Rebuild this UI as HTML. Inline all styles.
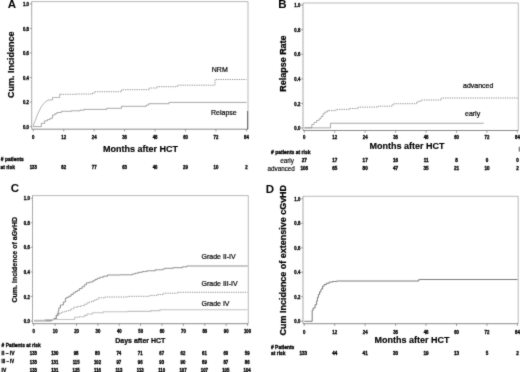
<!DOCTYPE html>
<html><head><meta charset="utf-8"><title>Figure</title>
<style>
html,body{margin:0;padding:0;background:#fff;}
svg{display:block;}
text{font-family:"Liberation Sans", sans-serif;fill:#222;}
.tk{font-size:5.1px;font-weight:bold;fill:#000;stroke:#000;stroke-width:0.35px;}
.nm{font-size:5.0px;font-weight:bold;fill:#000;stroke:#000;stroke-width:0.35px;}
.rl{font-size:5.1px;font-weight:bold;fill:#000;stroke:#000;stroke-width:0.3px;}
.rg{font-size:6.3px;fill:#000;stroke:#000;stroke-width:0.15px;}
.pl{font-size:11.5px;font-weight:bold;fill:#000;}
.yl9{font-size:9px;font-weight:bold;fill:#000;stroke:#000;stroke-width:0.2px;}
.yl95{font-size:9.5px;font-weight:bold;fill:#000;stroke:#000;stroke-width:0.25px;}
.yl7{font-size:7px;font-weight:bold;fill:#000;stroke:#000;stroke-width:0.2px;}
.xl9{font-size:9px;font-weight:bold;fill:#000;stroke:#000;stroke-width:0.15px;}
.xl7{font-size:7px;font-weight:bold;fill:#000;stroke:#000;stroke-width:0.2px;}
.lb{font-size:7px;fill:#000;stroke:#000;stroke-width:0.2px;}
</style></head>
<body>
<svg width="520" height="372" viewBox="0 0 520 372">
<defs><filter id="soft" x="0" y="0" width="520" height="372" filterUnits="userSpaceOnUse" color-interpolation-filters="sRGB"><feConvolveMatrix order="3" kernelMatrix="0.02 0.08 0.02 0.08 0.6 0.08 0.02 0.08 0.02" divisor="1" edgeMode="duplicate" preserveAlpha="false"/></filter></defs>
<g filter="url(#soft)">
<rect x="0" y="0" width="520" height="372" fill="#ffffff"/>
<path d="M31.7,1.6 H248 V129.2" fill="none" stroke="#9c9c9c" stroke-width="0.7"/>
<path d="M31.7,1.6 V129.2" fill="none" stroke="#7c7c7c" stroke-width="0.8" stroke-dasharray="1.6 0.3"/>
<path d="M31.7,129.2 H248" fill="none" stroke="#6e6e6e" stroke-width="0.8"/>
<line x1="33.25" y1="129.2" x2="33.25" y2="131.5" stroke="#666" stroke-width="0.6"/>
<text transform="translate(33.25,139.20) scale(0.84,1)" class="tk" text-anchor="middle" >0</text>
<line x1="63.7" y1="129.2" x2="63.7" y2="131.5" stroke="#666" stroke-width="0.6"/>
<text transform="translate(63.70,139.20) scale(0.84,1)" class="tk" text-anchor="middle" >12</text>
<line x1="94.15" y1="129.2" x2="94.15" y2="131.5" stroke="#666" stroke-width="0.6"/>
<text transform="translate(94.15,139.20) scale(0.84,1)" class="tk" text-anchor="middle" >24</text>
<line x1="124.6" y1="129.2" x2="124.6" y2="131.5" stroke="#666" stroke-width="0.6"/>
<text transform="translate(124.60,139.20) scale(0.84,1)" class="tk" text-anchor="middle" >36</text>
<line x1="155.05" y1="129.2" x2="155.05" y2="131.5" stroke="#666" stroke-width="0.6"/>
<text transform="translate(155.05,139.20) scale(0.84,1)" class="tk" text-anchor="middle" >48</text>
<line x1="185.5" y1="129.2" x2="185.5" y2="131.5" stroke="#666" stroke-width="0.6"/>
<text transform="translate(185.50,139.20) scale(0.84,1)" class="tk" text-anchor="middle" >60</text>
<line x1="215.95" y1="129.2" x2="215.95" y2="131.5" stroke="#666" stroke-width="0.6"/>
<text transform="translate(215.95,139.20) scale(0.84,1)" class="tk" text-anchor="middle" >72</text>
<line x1="246.4" y1="129.2" x2="246.4" y2="131.5" stroke="#666" stroke-width="0.6"/>
<text transform="translate(246.40,139.20) scale(0.84,1)" class="tk" text-anchor="middle" >84</text>
<line x1="29.9" y1="126.6" x2="31.7" y2="126.6" stroke="#666" stroke-width="0.6"/>
<text transform="translate(29.00,128.70) scale(0.84,1)" class="tk" text-anchor="end" >0.0</text>
<line x1="29.9" y1="102.06" x2="31.7" y2="102.06" stroke="#666" stroke-width="0.6"/>
<text transform="translate(29.00,104.16) scale(0.84,1)" class="tk" text-anchor="end" >0.2</text>
<line x1="29.9" y1="77.52" x2="31.7" y2="77.52" stroke="#666" stroke-width="0.6"/>
<text transform="translate(29.00,79.62) scale(0.84,1)" class="tk" text-anchor="end" >0.4</text>
<line x1="29.9" y1="52.97999999999999" x2="31.7" y2="52.97999999999999" stroke="#666" stroke-width="0.6"/>
<text transform="translate(29.00,55.08) scale(0.84,1)" class="tk" text-anchor="end" >0.6</text>
<line x1="29.9" y1="28.439999999999998" x2="31.7" y2="28.439999999999998" stroke="#666" stroke-width="0.6"/>
<text transform="translate(29.00,30.54) scale(0.84,1)" class="tk" text-anchor="end" >0.8</text>
<line x1="29.9" y1="3.9000000000000057" x2="31.7" y2="3.9000000000000057" stroke="#666" stroke-width="0.6"/>
<text transform="translate(29.00,6.00) scale(0.84,1)" class="tk" text-anchor="end" >1.0</text>
<text x="7.7" y="8.3" class="pl" text-anchor="start" >A</text>
<text transform="translate(13.7,64.7) rotate(-90) scale(1,1)" class="yl9" text-anchor="middle">Cum. Incidence</text>
<text x="140.5" y="152.4" class="xl9" text-anchor="middle" >Months after HCT</text>
<text transform="translate(0.80,161.10) scale(0.97,1)" class="rl" text-anchor="start" ># patients</text>
<text transform="translate(0.40,169.00) scale(0.97,1)" class="rl" text-anchor="start" >at risk</text>
<text transform="translate(33.25,169.30) scale(0.86,1)" class="nm" text-anchor="middle" >133</text>
<text transform="translate(63.70,169.30) scale(0.86,1)" class="nm" text-anchor="middle" >82</text>
<text transform="translate(94.15,169.30) scale(0.86,1)" class="nm" text-anchor="middle" >77</text>
<text transform="translate(124.60,169.30) scale(0.86,1)" class="nm" text-anchor="middle" >63</text>
<text transform="translate(155.05,169.30) scale(0.86,1)" class="nm" text-anchor="middle" >46</text>
<text transform="translate(185.50,169.30) scale(0.86,1)" class="nm" text-anchor="middle" >29</text>
<text transform="translate(215.95,169.30) scale(0.86,1)" class="nm" text-anchor="middle" >10</text>
<text transform="translate(246.40,169.30) scale(0.86,1)" class="nm" text-anchor="middle" >2</text>
<path d="M33.30,126.60 L33.80,124.00 L35.50,120.00 L38.00,113.30 L41.30,106.70 L44.70,102.50 L48.00,100.00 L51.30,100.00" fill="none" stroke="#808080" stroke-width="0.6"/>
<path d="M51.30,100.00 L52.55,100.00 L52.55,97.50 L53.80,97.50 L58.80,97.50 L59.65,97.50 L59.65,94.30 L60.50,94.30" fill="none" stroke="#808080" stroke-width="0.6"/>
<path d="M60.50,94.30 L75.90,94.30 L75.90,94.00 L91.30,94.00 L92.55,94.00 L92.55,92.85 L93.80,92.85 L95.05,92.85 L95.05,91.70 L96.30,91.70 L120.00,91.70 L121.65,91.70 L121.65,89.70 L123.30,89.70 L148.30,89.70 L149.15,89.70 L149.15,88.00 L150.00,88.00 L156.00,88.00 L157.15,88.00 L157.15,86.70 L158.30,86.70 L176.00,86.70 L177.25,86.70 L177.25,85.20 L178.50,85.20 L215.00,85.20 L215.00,79.50 L246.50,79.50" fill="none" stroke="#707070" stroke-width="0.75" stroke-dasharray="1.3 1.0"/>
<path d="M33.30,126.60 L39.70,126.60 L41.35,126.60 L41.35,123.30 L43.00,123.30 L44.65,123.30 L44.65,120.80 L46.30,120.80 L47.55,120.80 L47.55,119.55 L48.80,119.55 L50.05,119.55 L50.05,118.30 L51.30,118.30 L52.55,118.30 L52.55,115.00 L53.80,115.00 L54.85,115.00 L54.85,113.75 L55.90,113.75 L56.95,113.75 L56.95,112.50 L58.00,112.50 L61.35,112.50 L61.35,111.30 L64.70,111.30 L71.35,111.30 L71.35,110.80 L78.00,110.80 L80.08,110.80 L80.08,110.10 L82.15,110.10 L84.22,110.10 L84.22,109.40 L86.30,109.40 L106.00,109.40 L106.75,109.40 L106.75,108.30 L107.50,108.30 L120.00,108.30 L121.50,108.30 L121.50,106.30 L123.00,106.30 L145.00,106.30 L146.25,106.30 L146.25,105.00 L147.50,105.00 L148.75,105.00 L148.75,103.70 L150.00,103.70 L168.00,103.70 L169.00,103.70 L169.00,102.40 L170.00,102.40 L246.50,102.40" fill="none" stroke="#6c6c6c" stroke-width="0.6"/>
<line x1="247.6" y1="111" x2="247.6" y2="129.5" stroke="#666" stroke-width="1"/>
<text x="211.8" y="71.6" class="lb" text-anchor="start" >NRM</text>
<text x="211.0" y="114.8" class="lb" text-anchor="start" >Relapse</text>
<path d="M303,3 H518.3 V130.5" fill="none" stroke="#9c9c9c" stroke-width="0.7"/>
<path d="M303,3 V130.5" fill="none" stroke="#7c7c7c" stroke-width="0.8" stroke-dasharray="1.6 0.3"/>
<path d="M303,130.5 H518.3" fill="none" stroke="#6e6e6e" stroke-width="0.8"/>
<line x1="304.25" y1="130.5" x2="304.25" y2="132.8" stroke="#666" stroke-width="0.6"/>
<text transform="translate(304.25,139.30) scale(0.84,1)" class="tk" text-anchor="middle" >0</text>
<line x1="334.7" y1="130.5" x2="334.7" y2="132.8" stroke="#666" stroke-width="0.6"/>
<text transform="translate(334.70,139.30) scale(0.84,1)" class="tk" text-anchor="middle" >12</text>
<line x1="365.15" y1="130.5" x2="365.15" y2="132.8" stroke="#666" stroke-width="0.6"/>
<text transform="translate(365.15,139.30) scale(0.84,1)" class="tk" text-anchor="middle" >24</text>
<line x1="395.6" y1="130.5" x2="395.6" y2="132.8" stroke="#666" stroke-width="0.6"/>
<text transform="translate(395.60,139.30) scale(0.84,1)" class="tk" text-anchor="middle" >36</text>
<line x1="426.05" y1="130.5" x2="426.05" y2="132.8" stroke="#666" stroke-width="0.6"/>
<text transform="translate(426.05,139.30) scale(0.84,1)" class="tk" text-anchor="middle" >48</text>
<line x1="456.5" y1="130.5" x2="456.5" y2="132.8" stroke="#666" stroke-width="0.6"/>
<text transform="translate(456.50,139.30) scale(0.84,1)" class="tk" text-anchor="middle" >60</text>
<line x1="486.95" y1="130.5" x2="486.95" y2="132.8" stroke="#666" stroke-width="0.6"/>
<text transform="translate(486.95,139.30) scale(0.84,1)" class="tk" text-anchor="middle" >72</text>
<line x1="517.4" y1="130.5" x2="517.4" y2="132.8" stroke="#666" stroke-width="0.6"/>
<text transform="translate(517.40,139.30) scale(0.84,1)" class="tk" text-anchor="middle" >84</text>
<line x1="301.2" y1="128.0" x2="303" y2="128.0" stroke="#666" stroke-width="0.6"/>
<text transform="translate(300.30,130.10) scale(0.84,1)" class="tk" text-anchor="end" >0.0</text>
<line x1="301.2" y1="103.4" x2="303" y2="103.4" stroke="#666" stroke-width="0.6"/>
<text transform="translate(300.30,105.50) scale(0.84,1)" class="tk" text-anchor="end" >0.2</text>
<line x1="301.2" y1="78.8" x2="303" y2="78.8" stroke="#666" stroke-width="0.6"/>
<text transform="translate(300.30,80.90) scale(0.84,1)" class="tk" text-anchor="end" >0.4</text>
<line x1="301.2" y1="54.19999999999999" x2="303" y2="54.19999999999999" stroke="#666" stroke-width="0.6"/>
<text transform="translate(300.30,56.30) scale(0.84,1)" class="tk" text-anchor="end" >0.6</text>
<line x1="301.2" y1="29.599999999999994" x2="303" y2="29.599999999999994" stroke="#666" stroke-width="0.6"/>
<text transform="translate(300.30,31.70) scale(0.84,1)" class="tk" text-anchor="end" >0.8</text>
<line x1="301.2" y1="5.0" x2="303" y2="5.0" stroke="#666" stroke-width="0.6"/>
<text transform="translate(300.30,7.10) scale(0.84,1)" class="tk" text-anchor="end" >1.0</text>
<text x="278.2" y="8.2" class="pl" text-anchor="start" >B</text>
<text transform="translate(285.7,63.6) rotate(-90) scale(0.945,1)" class="yl95" text-anchor="middle">Relapse Rate</text>
<text x="407" y="149.4" class="xl9" text-anchor="middle" >Months after HCT</text>
<text x="271" y="153.8" class="rl" text-anchor="start"  style="font-size:5.0px"># patients at risk</text>
<text x="293.8" y="163.4" class="rg" text-anchor="end" >early</text>
<text x="294.8" y="171" class="rg" text-anchor="end" >advanced</text>
<text transform="translate(304.25,162.10) scale(0.95,1)" class="nm" text-anchor="middle"  style="font-size:4.8px">27</text>
<text transform="translate(304.25,170.20) scale(0.95,1)" class="nm" text-anchor="middle"  style="font-size:4.8px">106</text>
<text transform="translate(334.70,162.10) scale(0.95,1)" class="nm" text-anchor="middle"  style="font-size:4.8px">17</text>
<text transform="translate(334.70,170.20) scale(0.95,1)" class="nm" text-anchor="middle"  style="font-size:4.8px">65</text>
<text transform="translate(365.15,162.10) scale(0.95,1)" class="nm" text-anchor="middle"  style="font-size:4.8px">17</text>
<text transform="translate(365.15,170.20) scale(0.95,1)" class="nm" text-anchor="middle"  style="font-size:4.8px">80</text>
<text transform="translate(395.60,162.10) scale(0.95,1)" class="nm" text-anchor="middle"  style="font-size:4.8px">16</text>
<text transform="translate(395.60,170.20) scale(0.95,1)" class="nm" text-anchor="middle"  style="font-size:4.8px">47</text>
<text transform="translate(426.05,162.10) scale(0.95,1)" class="nm" text-anchor="middle"  style="font-size:4.8px">11</text>
<text transform="translate(426.05,170.20) scale(0.95,1)" class="nm" text-anchor="middle"  style="font-size:4.8px">35</text>
<text transform="translate(456.50,162.10) scale(0.95,1)" class="nm" text-anchor="middle"  style="font-size:4.8px">8</text>
<text transform="translate(456.50,170.20) scale(0.95,1)" class="nm" text-anchor="middle"  style="font-size:4.8px">21</text>
<text transform="translate(486.95,162.10) scale(0.95,1)" class="nm" text-anchor="middle"  style="font-size:4.8px">0</text>
<text transform="translate(486.95,170.20) scale(0.95,1)" class="nm" text-anchor="middle"  style="font-size:4.8px">10</text>
<text transform="translate(517.40,162.10) scale(0.95,1)" class="nm" text-anchor="middle"  style="font-size:4.8px">0</text>
<text transform="translate(517.40,170.20) scale(0.95,1)" class="nm" text-anchor="middle"  style="font-size:4.8px">2</text>
<path d="M304.30,127.90 L310.60,127.90 L311.80,127.90 L311.80,124.50 L313.00,124.50 L314.00,124.50 L314.00,122.50 L315.00,122.50 L316.50,122.50 L316.50,120.50 L318.00,120.50 L319.00,120.50 L319.00,118.75 L320.00,118.75 L321.00,118.75 L321.00,116.50 L322.00,116.50 L322.88,116.50 L322.88,113.75 L323.75,113.75 L324.88,113.75 L324.88,112.00 L326.00,112.00 L327.40,112.00 L327.40,110.60 L328.80,110.60" fill="none" stroke="#808080" stroke-width="0.6"/>
<path d="M328.80,110.60 L335.50,110.60 L336.00,110.60 L336.00,109.40 L336.50,109.40 L348.00,109.40 L349.50,109.40 L349.50,108.50 L351.00,108.50 L357.70,108.50 L358.10,108.50 L358.10,107.10 L358.50,107.10 L377.00,107.10 L377.90,107.10 L377.90,106.20 L378.80,106.20 L390.50,106.20 L391.62,106.20 L391.62,104.95 L392.75,104.95 L393.88,104.95 L393.88,103.70 L395.00,103.70 L415.00,103.70 L416.50,103.70 L416.50,102.00 L418.00,102.00 L419.12,102.00 L419.12,101.00 L420.25,101.00 L421.38,101.00 L421.38,100.00 L422.50,100.00 L440.00,100.00 L441.25,100.00 L441.25,98.00 L442.50,98.00 L517.50,98.00" fill="none" stroke="#707070" stroke-width="0.75" stroke-dasharray="1.3 1.0"/>
<path d="M304.30,127.90 L330.50,127.90 L330.50,123.25 L483.75,123.25" fill="none" stroke="#6c6c6c" stroke-width="0.6"/>
<text x="463" y="88.2" class="lb" text-anchor="start" >advanced</text>
<text x="465" y="115.6" class="lb" text-anchor="start" >early</text>
<rect x="518.7" y="146.8" width="1.4" height="4.8" fill="#808080"/>
<path d="M32.5,195.6 H248.3 V323.7" fill="none" stroke="#9c9c9c" stroke-width="0.7"/>
<path d="M32.5,195.6 V323.7" fill="none" stroke="#7c7c7c" stroke-width="0.8" stroke-dasharray="1.6 0.3"/>
<path d="M32.5,323.7 H248.3" fill="none" stroke="#6e6e6e" stroke-width="0.8"/>
<line x1="33.75" y1="323.7" x2="33.75" y2="326.0" stroke="#666" stroke-width="0.6"/>
<text transform="translate(33.75,333.20) scale(0.84,1)" class="tk" text-anchor="middle" >0</text>
<line x1="55.129999999999995" y1="323.7" x2="55.129999999999995" y2="326.0" stroke="#666" stroke-width="0.6"/>
<text transform="translate(55.13,333.20) scale(0.84,1)" class="tk" text-anchor="middle" >10</text>
<line x1="76.50999999999999" y1="323.7" x2="76.50999999999999" y2="326.0" stroke="#666" stroke-width="0.6"/>
<text transform="translate(76.51,333.20) scale(0.84,1)" class="tk" text-anchor="middle" >20</text>
<line x1="97.89" y1="323.7" x2="97.89" y2="326.0" stroke="#666" stroke-width="0.6"/>
<text transform="translate(97.89,333.20) scale(0.84,1)" class="tk" text-anchor="middle" >30</text>
<line x1="119.27" y1="323.7" x2="119.27" y2="326.0" stroke="#666" stroke-width="0.6"/>
<text transform="translate(119.27,333.20) scale(0.84,1)" class="tk" text-anchor="middle" >40</text>
<line x1="140.64999999999998" y1="323.7" x2="140.64999999999998" y2="326.0" stroke="#666" stroke-width="0.6"/>
<text transform="translate(140.65,333.20) scale(0.84,1)" class="tk" text-anchor="middle" >50</text>
<line x1="162.03" y1="323.7" x2="162.03" y2="326.0" stroke="#666" stroke-width="0.6"/>
<text transform="translate(162.03,333.20) scale(0.84,1)" class="tk" text-anchor="middle" >60</text>
<line x1="183.41" y1="323.7" x2="183.41" y2="326.0" stroke="#666" stroke-width="0.6"/>
<text transform="translate(183.41,333.20) scale(0.84,1)" class="tk" text-anchor="middle" >70</text>
<line x1="204.79" y1="323.7" x2="204.79" y2="326.0" stroke="#666" stroke-width="0.6"/>
<text transform="translate(204.79,333.20) scale(0.84,1)" class="tk" text-anchor="middle" >80</text>
<line x1="226.17" y1="323.7" x2="226.17" y2="326.0" stroke="#666" stroke-width="0.6"/>
<text transform="translate(226.17,333.20) scale(0.84,1)" class="tk" text-anchor="middle" >90</text>
<line x1="247.54999999999998" y1="323.7" x2="247.54999999999998" y2="326.0" stroke="#666" stroke-width="0.6"/>
<text transform="translate(247.55,333.20) scale(0.84,1)" class="tk" text-anchor="middle" >100</text>
<line x1="30.7" y1="321.0" x2="32.5" y2="321.0" stroke="#666" stroke-width="0.6"/>
<text transform="translate(29.80,323.10) scale(0.84,1)" class="tk" text-anchor="end" >0.0</text>
<line x1="30.7" y1="296.45" x2="32.5" y2="296.45" stroke="#666" stroke-width="0.6"/>
<text transform="translate(29.80,298.55) scale(0.84,1)" class="tk" text-anchor="end" >0.2</text>
<line x1="30.7" y1="271.9" x2="32.5" y2="271.9" stroke="#666" stroke-width="0.6"/>
<text transform="translate(29.80,274.00) scale(0.84,1)" class="tk" text-anchor="end" >0.4</text>
<line x1="30.7" y1="247.35" x2="32.5" y2="247.35" stroke="#666" stroke-width="0.6"/>
<text transform="translate(29.80,249.45) scale(0.84,1)" class="tk" text-anchor="end" >0.6</text>
<line x1="30.7" y1="222.8" x2="32.5" y2="222.8" stroke="#666" stroke-width="0.6"/>
<text transform="translate(29.80,224.90) scale(0.84,1)" class="tk" text-anchor="end" >0.8</text>
<line x1="30.7" y1="198.25" x2="32.5" y2="198.25" stroke="#666" stroke-width="0.6"/>
<text transform="translate(29.80,200.35) scale(0.84,1)" class="tk" text-anchor="end" >1.0</text>
<text x="10.8" y="192.3" class="pl" text-anchor="start" >C</text>
<text transform="translate(17.0,259.7) rotate(-90) scale(1,1)" class="yl7" text-anchor="middle">Cum. Incidence of aGvHD</text>
<text x="140.3" y="343" class="xl7" text-anchor="middle" >Days after HCT</text>
<text transform="translate(1.60,346.80) scale(0.97,1)" class="rl" text-anchor="start" ># Patients at risk</text>
<text transform="translate(1.60,355.30) scale(0.97,1)" class="rl" text-anchor="start" >II – IV</text>
<text transform="translate(1.60,363.40) scale(0.85,1)" class="rl" text-anchor="start" >III – IV</text>
<text transform="translate(1.60,371.60) scale(0.97,1)" class="rl" text-anchor="start" >IV</text>
<text transform="translate(33.35,355.40) scale(0.86,1)" class="nm" text-anchor="middle" >133</text>
<text transform="translate(33.35,363.50) scale(0.86,1)" class="nm" text-anchor="middle" >133</text>
<text transform="translate(33.35,371.70) scale(0.86,1)" class="nm" text-anchor="middle" >133</text>
<text transform="translate(54.73,355.40) scale(0.86,1)" class="nm" text-anchor="middle" >130</text>
<text transform="translate(54.73,363.50) scale(0.86,1)" class="nm" text-anchor="middle" >131</text>
<text transform="translate(54.73,371.70) scale(0.86,1)" class="nm" text-anchor="middle" >131</text>
<text transform="translate(76.11,355.40) scale(0.86,1)" class="nm" text-anchor="middle" >98</text>
<text transform="translate(76.11,363.50) scale(0.86,1)" class="nm" text-anchor="middle" >115</text>
<text transform="translate(76.11,371.70) scale(0.86,1)" class="nm" text-anchor="middle" >125</text>
<text transform="translate(97.49,355.40) scale(0.86,1)" class="nm" text-anchor="middle" >80</text>
<text transform="translate(97.49,363.50) scale(0.86,1)" class="nm" text-anchor="middle" >102</text>
<text transform="translate(97.49,371.70) scale(0.86,1)" class="nm" text-anchor="middle" >116</text>
<text transform="translate(118.87,355.40) scale(0.86,1)" class="nm" text-anchor="middle" >74</text>
<text transform="translate(118.87,363.50) scale(0.86,1)" class="nm" text-anchor="middle" >97</text>
<text transform="translate(118.87,371.70) scale(0.86,1)" class="nm" text-anchor="middle" >113</text>
<text transform="translate(140.25,355.40) scale(0.86,1)" class="nm" text-anchor="middle" >71</text>
<text transform="translate(140.25,363.50) scale(0.86,1)" class="nm" text-anchor="middle" >96</text>
<text transform="translate(140.25,371.70) scale(0.86,1)" class="nm" text-anchor="middle" >113</text>
<text transform="translate(161.63,355.40) scale(0.86,1)" class="nm" text-anchor="middle" >67</text>
<text transform="translate(161.63,363.50) scale(0.86,1)" class="nm" text-anchor="middle" >93</text>
<text transform="translate(161.63,371.70) scale(0.86,1)" class="nm" text-anchor="middle" >110</text>
<text transform="translate(183.01,355.40) scale(0.86,1)" class="nm" text-anchor="middle" >62</text>
<text transform="translate(183.01,363.50) scale(0.86,1)" class="nm" text-anchor="middle" >90</text>
<text transform="translate(183.01,371.70) scale(0.86,1)" class="nm" text-anchor="middle" >107</text>
<text transform="translate(204.39,355.40) scale(0.86,1)" class="nm" text-anchor="middle" >61</text>
<text transform="translate(204.39,363.50) scale(0.86,1)" class="nm" text-anchor="middle" >89</text>
<text transform="translate(204.39,371.70) scale(0.86,1)" class="nm" text-anchor="middle" >107</text>
<text transform="translate(225.77,355.40) scale(0.86,1)" class="nm" text-anchor="middle" >60</text>
<text transform="translate(225.77,363.50) scale(0.86,1)" class="nm" text-anchor="middle" >87</text>
<text transform="translate(225.77,371.70) scale(0.86,1)" class="nm" text-anchor="middle" >105</text>
<text transform="translate(247.15,355.40) scale(0.86,1)" class="nm" text-anchor="middle" >59</text>
<text transform="translate(247.15,363.50) scale(0.86,1)" class="nm" text-anchor="middle" >86</text>
<text transform="translate(247.15,371.70) scale(0.86,1)" class="nm" text-anchor="middle" >104</text>
<path d="M34.00,320.80 L50.00,320.80 L51.25,320.80 L51.25,319.75 L52.50,319.75 L53.75,319.75 L53.75,318.70 L55.00,318.70 L56.25,318.70 L56.25,315.30 L57.50,315.30 L57.78,315.30 L57.78,312.80 L58.07,312.80 L58.35,312.80 L58.35,310.30 L58.63,310.30 L58.92,310.30 L58.92,307.80 L59.20,307.80 L60.45,307.80 L60.45,305.00 L61.70,305.00 L63.35,305.00 L63.35,302.00 L65.00,302.00 L65.40,302.00 L65.40,298.30 L65.80,298.30 L66.85,298.30 L66.85,297.25 L67.90,297.25 L68.95,297.25 L68.95,296.20 L70.00,296.20 L71.05,296.20 L71.05,294.50 L72.10,294.50 L73.15,294.50 L73.15,292.80 L74.20,292.80 L75.22,292.80 L75.22,291.55 L76.25,291.55 L77.28,291.55 L77.28,290.30 L78.30,290.30 L79.55,290.30 L79.55,288.50 L80.80,288.50 L82.05,288.50 L82.05,286.70 L83.30,286.70 L84.35,286.70 L84.35,284.75 L85.40,284.75 L86.45,284.75 L86.45,282.80 L87.50,282.80 L89.60,282.80 L89.60,282.00 L91.70,282.00 L92.80,282.00 L92.80,280.77 L93.90,280.77 L95.00,280.77 L95.00,279.53 L96.10,279.53 L97.20,279.53 L97.20,278.30 L98.30,278.30 L99.97,278.30 L99.97,277.25 L101.65,277.25 L103.33,277.25 L103.33,276.20 L105.00,276.20 L107.50,276.20 L107.50,275.00 L110.00,275.00 L120.40,275.00 L120.40,274.80 L130.80,274.80 L132.33,274.80 L132.33,273.97 L133.87,273.97 L135.40,273.97 L135.40,273.13 L136.93,273.13 L138.47,273.13 L138.47,272.30 L140.00,272.30 L142.25,272.30 L142.25,271.55 L144.50,271.55 L146.75,271.55 L146.75,270.80 L149.00,270.80 L155.25,270.80 L155.25,269.80 L161.50,269.80 L162.62,269.80 L162.62,269.05 L163.75,269.05 L164.88,269.05 L164.88,268.30 L166.00,268.30 L173.00,268.30 L173.00,267.70 L180.00,267.70 L182.25,267.70 L182.25,266.85 L184.50,266.85 L186.75,266.85 L186.75,266.00 L189.00,266.00 L247.70,266.00" fill="none" stroke="#606060" stroke-width="0.7"/>
<path d="M34.00,320.80 L50.00,320.80 L51.25,320.80 L51.25,319.75 L52.50,319.75 L53.75,319.75 L53.75,318.70 L55.00,318.70 L56.25,318.70 L56.25,315.30 L57.50,315.30 L58.35,315.30 L58.35,313.70 L59.20,313.70" fill="none" stroke="#858585" stroke-width="0.65"/>
<path d="M59.20,313.70 L60.23,313.70 L60.23,312.85 L61.25,312.85 L62.27,312.85 L62.27,312.00 L63.30,312.00 L64.97,312.00 L64.97,311.15 L66.65,311.15 L68.33,311.15 L68.33,310.30 L70.00,310.30 L71.25,310.30 L71.25,308.80 L72.50,308.80 L73.75,308.80 L73.75,307.30 L75.00,307.30 L77.08,307.30 L77.08,306.50 L79.15,306.50 L81.22,306.50 L81.22,305.70 L83.30,305.70 L84.55,305.70 L84.55,304.25 L85.80,304.25 L87.05,304.25 L87.05,302.80 L88.30,302.80 L89.42,302.80 L89.42,301.97 L90.53,301.97 L91.65,301.97 L91.65,301.13 L92.77,301.13 L93.88,301.13 L93.88,300.30 L95.00,300.30 L96.25,300.30 L96.25,299.05 L97.50,299.05 L98.75,299.05 L98.75,297.80 L100.00,297.80 L105.00,297.80 L105.00,297.00 L110.00,297.00 L128.00,297.00 L128.00,296.30 L146.00,296.30 L149.88,296.30 L149.88,295.40 L153.75,295.40 L157.62,295.40 L157.62,294.50 L161.50,294.50 L163.75,294.50 L163.75,293.20 L166.00,293.20 L177.50,293.20 L177.50,292.30 L189.00,292.30 L247.70,292.30" fill="none" stroke="#707070" stroke-width="0.75" stroke-dasharray="1.3 1.0"/>
<path d="M34.00,320.20 L45.35,320.20 L45.35,319.50 L56.70,319.50 L74.20,319.50 L74.60,319.50 L74.60,317.30 L75.00,317.30 L79.15,317.30 L79.15,316.70 L83.30,316.70 L84.55,316.70 L84.55,315.35 L85.80,315.35 L87.05,315.35 L87.05,314.00 L88.30,314.00 L92.50,314.00 L92.50,312.80 L96.70,312.80 L103.35,312.80 L103.35,311.80 L110.00,311.80 L128.00,311.80 L128.00,311.40 L146.00,311.40 L150.65,311.40 L150.65,310.60 L155.30,310.60 L159.95,310.60 L159.95,309.80 L164.60,309.80 L247.70,309.80" fill="none" stroke="#c2c2c2" stroke-width="1.1"/>
<text x="201.5" y="259.0" class="lb" text-anchor="start" >Grade II-IV</text>
<text x="201.5" y="286.0" class="lb" text-anchor="start" >Grade III-IV</text>
<text x="201.5" y="306.2" class="lb" text-anchor="start" >Grade IV</text>
<path d="M303,196.3 H518.2 V323.7" fill="none" stroke="#9c9c9c" stroke-width="0.7"/>
<path d="M303,196.3 V323.7" fill="none" stroke="#7c7c7c" stroke-width="0.8" stroke-dasharray="1.6 0.3"/>
<path d="M303,323.7 H518.2" fill="none" stroke="#6e6e6e" stroke-width="0.8"/>
<line x1="304.25" y1="323.7" x2="304.25" y2="326.0" stroke="#666" stroke-width="0.6"/>
<text transform="translate(304.25,334.00) scale(0.84,1)" class="tk" text-anchor="middle" >0</text>
<line x1="334.7" y1="323.7" x2="334.7" y2="326.0" stroke="#666" stroke-width="0.6"/>
<text transform="translate(334.70,334.00) scale(0.84,1)" class="tk" text-anchor="middle" >12</text>
<line x1="365.15" y1="323.7" x2="365.15" y2="326.0" stroke="#666" stroke-width="0.6"/>
<text transform="translate(365.15,334.00) scale(0.84,1)" class="tk" text-anchor="middle" >24</text>
<line x1="395.6" y1="323.7" x2="395.6" y2="326.0" stroke="#666" stroke-width="0.6"/>
<text transform="translate(395.60,334.00) scale(0.84,1)" class="tk" text-anchor="middle" >36</text>
<line x1="426.05" y1="323.7" x2="426.05" y2="326.0" stroke="#666" stroke-width="0.6"/>
<text transform="translate(426.05,334.00) scale(0.84,1)" class="tk" text-anchor="middle" >48</text>
<line x1="456.5" y1="323.7" x2="456.5" y2="326.0" stroke="#666" stroke-width="0.6"/>
<text transform="translate(456.50,334.00) scale(0.84,1)" class="tk" text-anchor="middle" >60</text>
<line x1="486.95" y1="323.7" x2="486.95" y2="326.0" stroke="#666" stroke-width="0.6"/>
<text transform="translate(486.95,334.00) scale(0.84,1)" class="tk" text-anchor="middle" >72</text>
<line x1="517.4" y1="323.7" x2="517.4" y2="326.0" stroke="#666" stroke-width="0.6"/>
<text transform="translate(517.40,334.00) scale(0.84,1)" class="tk" text-anchor="middle" >84</text>
<line x1="301.2" y1="321.25" x2="303" y2="321.25" stroke="#666" stroke-width="0.6"/>
<text transform="translate(300.30,323.35) scale(0.84,1)" class="tk" text-anchor="end" >0.0</text>
<line x1="301.2" y1="296.75" x2="303" y2="296.75" stroke="#666" stroke-width="0.6"/>
<text transform="translate(300.30,298.85) scale(0.84,1)" class="tk" text-anchor="end" >0.2</text>
<line x1="301.2" y1="272.25" x2="303" y2="272.25" stroke="#666" stroke-width="0.6"/>
<text transform="translate(300.30,274.35) scale(0.84,1)" class="tk" text-anchor="end" >0.4</text>
<line x1="301.2" y1="247.75" x2="303" y2="247.75" stroke="#666" stroke-width="0.6"/>
<text transform="translate(300.30,249.85) scale(0.84,1)" class="tk" text-anchor="end" >0.6</text>
<line x1="301.2" y1="223.25" x2="303" y2="223.25" stroke="#666" stroke-width="0.6"/>
<text transform="translate(300.30,225.35) scale(0.84,1)" class="tk" text-anchor="end" >0.8</text>
<line x1="301.2" y1="198.75" x2="303" y2="198.75" stroke="#666" stroke-width="0.6"/>
<text transform="translate(300.30,200.85) scale(0.84,1)" class="tk" text-anchor="end" >1.0</text>
<text x="265.8" y="193" class="pl" text-anchor="start" >D</text>
<text transform="translate(286.3,260.2) rotate(-90) scale(0.945,1)" class="yl95" text-anchor="middle">Cum Incidence of extensive cGvHD</text>
<text x="412" y="343.3" class="xl9" text-anchor="middle" >Months after HCT</text>
<text transform="translate(271.00,348.70) scale(0.97,1)" class="rl" text-anchor="start" ># Patients</text>
<text transform="translate(271.00,355.20) scale(0.97,1)" class="rl" text-anchor="start" >at risk</text>
<text transform="translate(303.30,355.30) scale(0.95,1)" class="nm" text-anchor="middle"  style="font-size:4.8px">133</text>
<text transform="translate(334.70,355.30) scale(0.95,1)" class="nm" text-anchor="middle"  style="font-size:4.8px">44</text>
<text transform="translate(365.15,355.30) scale(0.95,1)" class="nm" text-anchor="middle"  style="font-size:4.8px">41</text>
<text transform="translate(395.60,355.30) scale(0.95,1)" class="nm" text-anchor="middle"  style="font-size:4.8px">30</text>
<text transform="translate(426.05,355.30) scale(0.95,1)" class="nm" text-anchor="middle"  style="font-size:4.8px">19</text>
<text transform="translate(456.50,355.30) scale(0.95,1)" class="nm" text-anchor="middle"  style="font-size:4.8px">13</text>
<text transform="translate(486.95,355.30) scale(0.95,1)" class="nm" text-anchor="middle"  style="font-size:4.8px">5</text>
<text transform="translate(517.40,355.30) scale(0.95,1)" class="nm" text-anchor="middle"  style="font-size:4.8px">2</text>
<path d="M304.30,321.30 L312.20,321.30 L312.20,310.30 L313.10,310.30 L313.10,308.00 L314.00,308.00 L315.10,308.00 L315.10,304.70 L316.20,304.70 L316.60,304.70 L316.60,301.00 L317.00,301.00 L317.40,301.00 L317.40,297.40 L317.80,297.40 L318.40,297.40 L318.40,294.50 L319.00,294.50 L319.60,294.50 L319.60,291.80 L320.20,291.80 L321.00,291.80 L321.00,289.00 L321.80,289.00 L322.60,289.00 L322.60,286.10 L323.40,286.10 L324.20,286.10 L324.20,284.50 L325.00,284.50 L326.40,284.50 L326.40,283.20 L327.80,283.20 L329.25,283.20 L329.25,282.10 L330.70,282.10 L332.70,282.10 L332.70,281.50 L334.70,281.50 L336.70,281.50 L336.70,281.00 L338.70,281.00 L418.00,281.00 L418.75,281.00 L418.75,279.50 L419.50,279.50 L517.50,279.50" fill="none" stroke="#585858" stroke-width="0.8"/>
</g>
</svg>
</body></html>
